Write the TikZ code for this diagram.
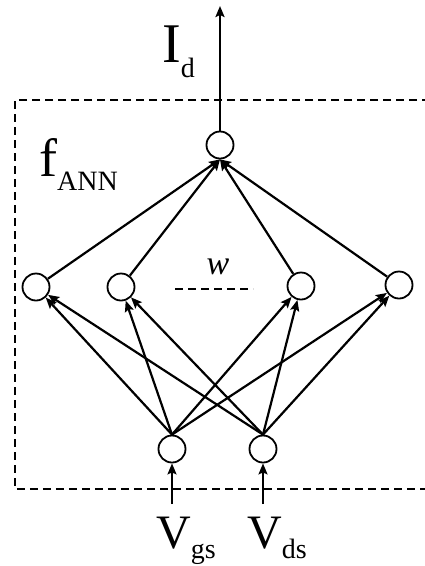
\documentclass[tikz,border=0pt]{standalone}
\usepackage{fontspec}
\setmainfont{Liberation Serif}
\usetikzlibrary{arrows.meta}
\tikzset{
  neuron/.style={circle,draw,line width=1.8pt,minimum size=27pt,inner sep=0pt},
  conn/.style={line width=2.2pt,-{Stealth[length=11pt,width=9pt,inset=2pt]}},
  lbl/.style={inner sep=0pt,anchor=base west},
  dashline/.style={line width=1.8pt,dash pattern=on 8pt off 5pt},
}
\newcommand{\bigtxt}[4]{{\fontsize{#1}{#1}\selectfont #2}\raisebox{-#4pt}{\fontsize{28}{28}\selectfont #3}}
\begin{document}
\begin{tikzpicture}[x=1pt,y=-1pt]
\useasboundingbox (0,0) rectangle (424,566);
\draw[dashline] (430,100) -- (15,100) -- (15,489) -- (430,489);
% nodes
\node[neuron] (top) at (220,145) {};
\node[neuron] (h1) at (36,287) {};
\node[neuron] (h2) at (121,287) {};
\node[neuron] (h3) at (301,286) {};
\node[neuron] (h4) at (399,285) {};
\node[neuron] (i1) at (172,449) {};
\node[neuron] (i2) at (263,449) {};
\coordinate (out) at (220,6);
\coordinate (vgs) at (172,504);
\coordinate (vds) at (263,504);
% connectors
\draw[conn] (top) -- (out);
\foreach \h in {h1,h2,h3,h4} {
  \draw[conn] (\h) -- (top.south);
  \draw[conn] (i1.north) -- (\h);
  \draw[conn] (i2.north) -- (\h);
}
\draw[conn] (vgs) -- (i1);
\draw[conn] (vds) -- (i2);
% dashed w
\coordinate (wa) at (175,289);
\coordinate (wb) at (253,289);
\draw[dashline] (wa) -- (wb);
\node[inner sep=0pt] (w) at (218,267) {\fontsize{34}{34}\selectfont\itshape w};
% labels
\node[lbl] (Id) at (162,62) {\bigtxt{56}{I}{d}{15}};
\node[lbl] (fann) at (39,176) {\bigtxt{54}{f}{ANN}{14}};
\node[lbl] (Vgs) at (156,548) {\bigtxt{48}{V}{gs}{10}};
\node[lbl] (Vds) at (247,548) {\bigtxt{48}{V}{ds}{10}};
\end{tikzpicture}
\end{document}
